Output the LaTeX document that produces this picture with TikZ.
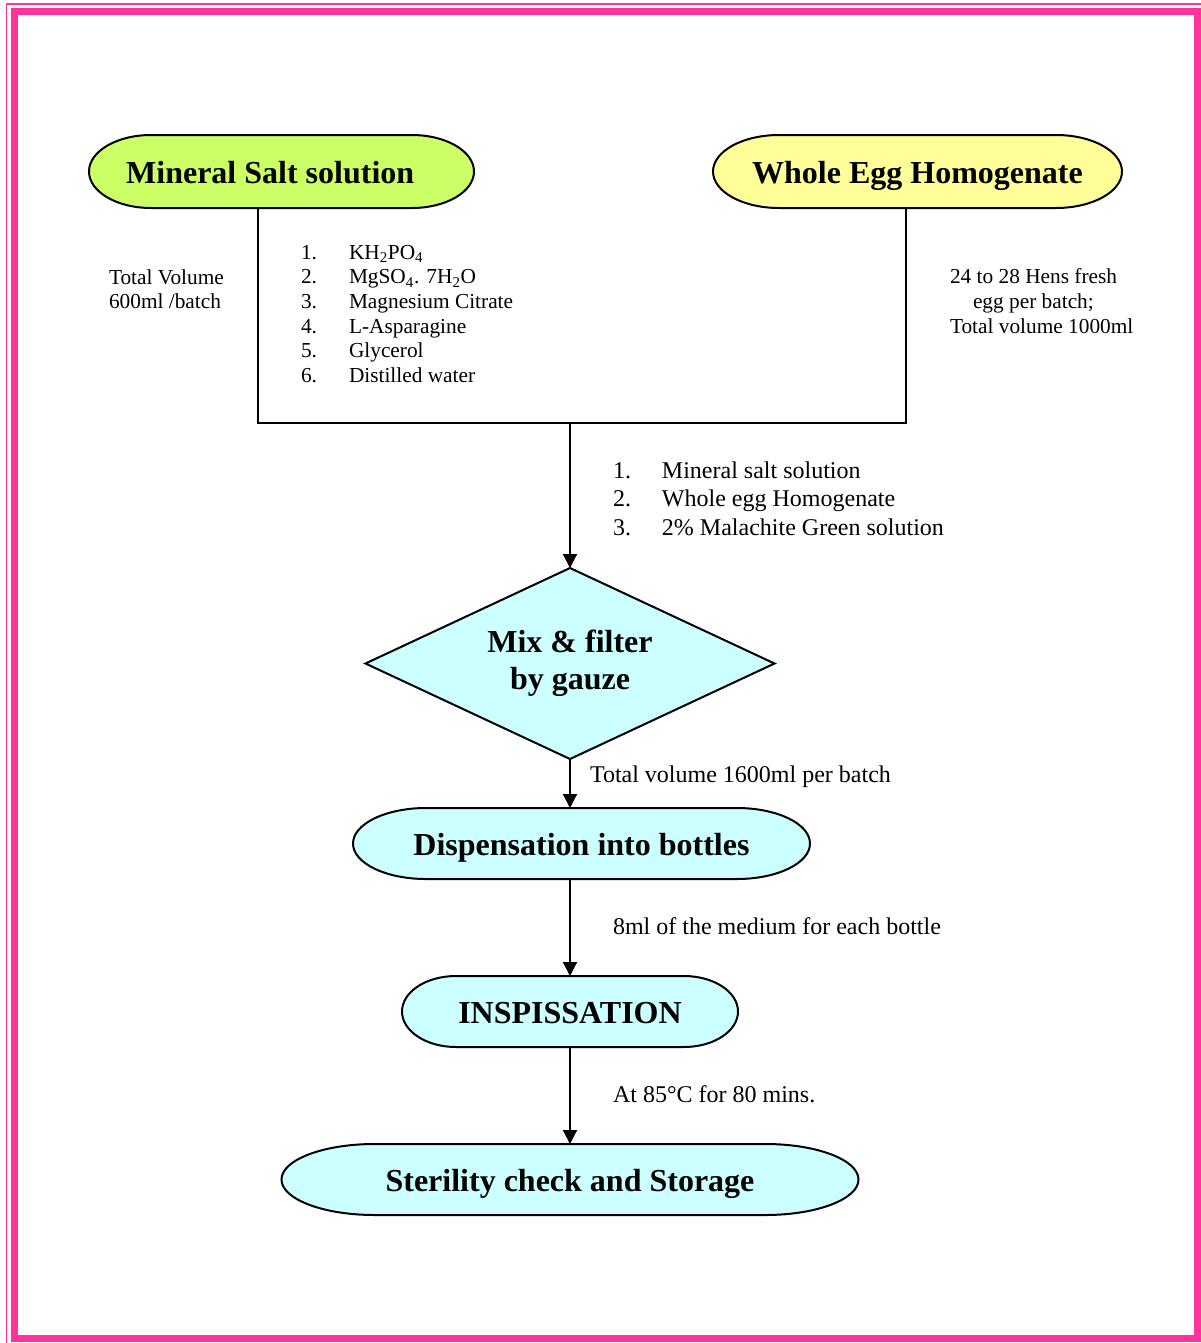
\documentclass[tikz,border=0pt]{standalone}
\usepackage{fontspec}
\setmainfont{Liberation Serif}
\usetikzlibrary{arrows.meta,calc,backgrounds}
\definecolor{framepink}{HTML}{FF3399}
\definecolor{msgreen}{HTML}{CCFF66}
\definecolor{eggyellow}{HTML}{FFFF99}
\definecolor{stepcyan}{HTML}{CCFFFF}

% capsule outline drawn around a (borderless) node: #1 node, #2 fill, #3 rx, #4 ry (px)
\newcommand\capsuleshape[4]{%
  \pgfmathsetmacro\cpa{#3*(1-0.5523)}%
  \pgfmathsetmacro\cpb{#4*0.5523}%
  \draw[shapeline,fill=#2] ($(#1.north west)+(#3,0)$) -- ($(#1.north east)+(-#3,0)$)
    .. controls ($(#1.north east)+(-\cpa,0)$) and ($(#1.east)+(0,-\cpb)$) .. (#1.east)
    .. controls ($(#1.east)+(0,\cpb)$) and ($(#1.south east)+(-\cpa,0)$) .. ($(#1.south east)+(-#3,0)$)
    -- ($(#1.south west)+(#3,0)$)
    .. controls ($(#1.south west)+(\cpa,0)$) and ($(#1.west)+(0,\cpb)$) .. (#1.west)
    .. controls ($(#1.west)+(0,-\cpb)$) and ($(#1.north west)+(\cpa,0)$) .. ($(#1.north west)+(#3,0)$) -- cycle;
}

\begin{document}
\begin{tikzpicture}[x=0.75pt,y=-0.75pt,
  heading/.style={font=\fontsize{24}{28}\selectfont\bfseries, text height=18pt, text depth=0pt,
                  inner sep=0pt, outer sep=0pt, minimum height=53.25pt},
  body/.style={font=\fontsize{16}{18.5}\selectfont, inner sep=0pt, outer sep=0pt, anchor=base west},
  label/.style={body, font=\fontsize{18}{21.4}\selectfont},
  flow/.style={line width=1.5pt, -{Triangle[length=10.5pt,width=10.5pt]}},
  link/.style={line width=1.5pt},
  shapeline/.style={line width=1.5pt}
]
\useasboundingbox (0,0) rectangle (1201,1343);

% frame
\draw[framepink, line width=5.25pt] (14,11.6) rectangle (1197.5,1338.5);
\draw[framepink, line width=1pt] (6.5,1345) -- (6.5,4) -- (1203,4);

% nodes
\node[heading, minimum width=288.75pt, minimum height=54.75pt] (ms) at (281.5,171.5) {Mineral Salt solution\hspace*{17pt}};
\node[heading, minimum width=306.75pt, minimum height=54.75pt] (weg) at (917.5,171.5) {Whole Egg Homogenate};
\node[font=\fontsize{24}{27.75}\selectfont\bfseries, align=center, inner sep=0pt, outer sep=0pt,
      minimum width=306.75pt, minimum height=143.25pt] (mix) at (570,663.5) {Mix \& filter\\by gauze};
\node[heading, minimum width=342.75pt] (disp) at (581.5,843.5) {Dispensation into bottles};
\node[heading, minimum width=252pt] (insp) at (570,1011.5) {INSPISSATION};
\node[heading, minimum width=432.75pt] (ster) at (570,1179.5) {Sterility check and Storage};

\begin{scope}[on background layer]
  \capsuleshape{ms}{msgreen}{62}{36.5}
  \capsuleshape{weg}{eggyellow}{66}{36.5}
  \capsuleshape{disp}{stepcyan}{73}{35.5}
  \capsuleshape{insp}{stepcyan}{54}{35.5}
  \capsuleshape{ster}{stepcyan}{93}{35.5}
  \draw[shapeline, fill=stepcyan] (mix.north) -- (mix.east) -- (mix.south) -- (mix.west) -- cycle;
\end{scope}

% connectors
\coordinate (jl) at (258,423);
\coordinate (jr) at (906,423);
\coordinate (jm) at (570,423);
\draw[link] (ms.south -| jl) -- (jl) -- (jr) -- (weg.south -| jr);
\draw[flow] (jm) -- (mix.north);
\draw[flow] (mix.south) -- (mix.south |- disp.north);
\draw[flow] (disp.south -| mix.south) -- (insp.north);
\draw[flow] (insp.south) -- (ster.north);

% texts
\node[body] (tvol) at (109,284) {\begin{tabular}[t]{@{}l@{}}Total Volume\\600ml /batch\end{tabular}};
\node[body] (salts) at (301,259) {\begin{tabular}[t]{@{}p{36pt}@{}l@{}}
1. & KH\textsubscript{2}PO\textsubscript{4}\\
2. & MgSO\textsubscript{4}. 7H\textsubscript{2}O\\
3. & Magnesium Citrate\\
4. & L-Asparagine\\
5. & Glycerol\\
6. & Distilled water
\end{tabular}};
\node[body, font=\fontsize{16}{18.75}\selectfont] (eggs) at (950,283) {\begin{tabular}[t]{@{}l@{}}24 to 28 Hens fresh\\\hspace*{17.25pt}egg per batch;\\Total volume 1000ml\end{tabular}};
\node[label] (mixlist) at (613,478) {\begin{tabular}[t]{@{}p{36.75pt}@{}l@{}}
1. & Mineral salt solution\\
2. & Whole egg Homogenate\\
3. & 2\% Malachite Green solution
\end{tabular}};
\node[label] (vol) at (590,782) {Total volume 1600ml per batch};
\node[label] (perbottle) at (613,934) {8ml of the medium for each bottle};
\node[label] (temp) at (613,1102) {At 85°C for 80 mins.};
\end{tikzpicture}
\end{document}
